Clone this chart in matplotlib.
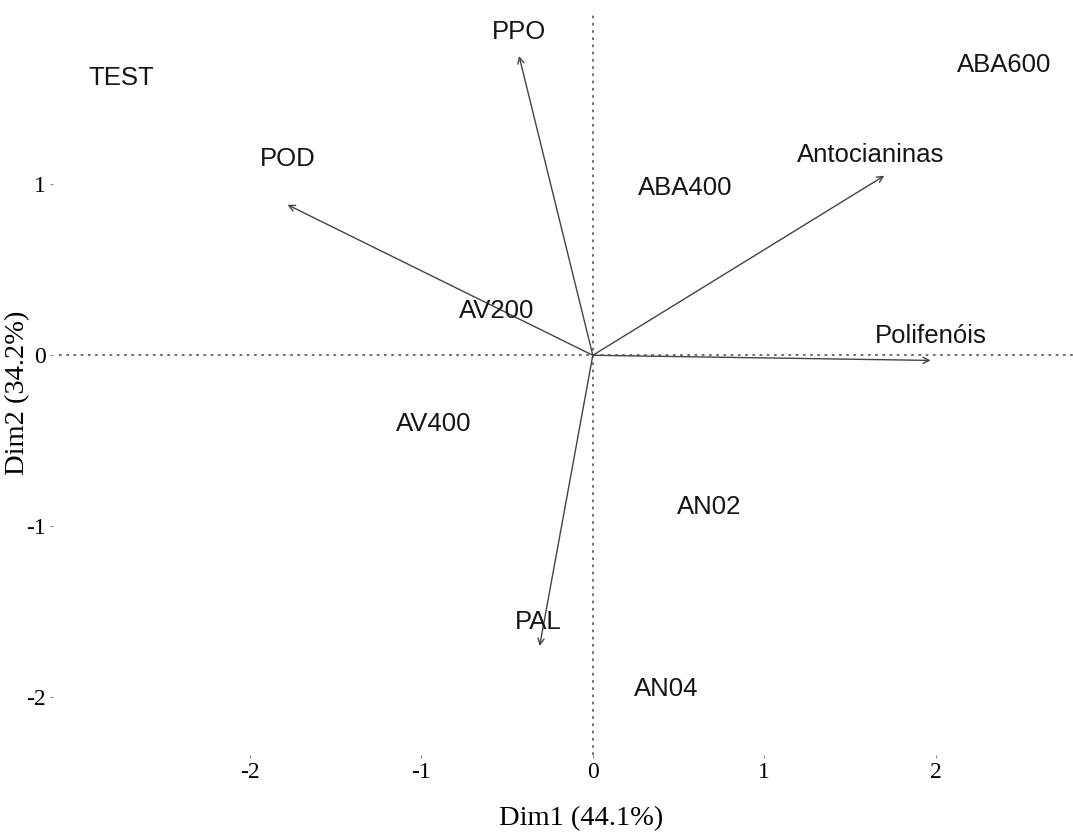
import matplotlib

matplotlib.use("Agg")
import matplotlib.pyplot as plt

# variables (arrows) and where their labels sit
var_names = ["PPO", "POD", "Antocianinas", "Polifenóis", "PAL"]
var_x = [-0.43, -1.78, 1.70, 1.97, -0.31]
var_y = [1.75, 0.88, 1.05, -0.03, -1.70]
var_lx = [-0.43, -1.78, 1.62, 1.97, -0.32]
var_ly = [1.89, 1.15, 1.17, 0.11, -1.56]

# individuals (treatment labels)
ind_names = ["TEST", "ABA600", "ABA400", "AV200", "AV400", "AN02", "AN04"]
ind_x = [-2.75, 2.40, 0.54, -0.56, -0.93, 0.68, 0.43]
ind_y = [1.62, 1.70, 0.98, 0.26, -0.40, -0.89, -1.95]

xticks = [-2, -1, 0, 1, 2]
yticks = [-2, -1, 0, 1]
xlabel = "Dim1 (44.1%)"
ylabel = "Dim2 (34.2%)"

SANS = "Liberation Sans"
SERIF = "Liberation Serif"

fig = plt.figure(figsize=(10.73, 8.32), dpi=100)
ax = fig.add_axes([0.049, 0.092, 0.951, 0.89])
ax.set_xlim(-3.15, 2.80)
ax.set_ylim(-2.34, 1.99)

for s in ax.spines.values():
    s.set_visible(False)

ax.axhline(0, color="#666666", lw=1.3, ls=(0, (1.5, 2.5)), xmin=0.006)
ax.axvline(0, color="#666666", lw=1.3, ls=(0, (1.5, 2.5)))

for name, x, y, lx, ly in zip(var_names, var_x, var_y, var_lx, var_ly):
    ax.annotate("", xy=(x, y), xytext=(0, 0),
                arrowprops=dict(arrowstyle="->", color="#444444", lw=1.0,
                                mutation_scale=11, shrinkA=0, shrinkB=0))
    ax.text(lx, ly, name, ha="center", va="center", fontsize=18.5,
            family=SANS, color="#151515")

for name, x, y in zip(ind_names, ind_x, ind_y):
    ax.text(x, y, name, ha="center", va="center", fontsize=18.5,
            family=SANS, color="#151515")

ax.set_xticks(xticks)
ax.set_xticklabels([f"{t:d}" for t in xticks], family=SERIF, fontsize=17)
ax.set_yticks(yticks)
ax.set_yticklabels([f"{t:d}" for t in yticks], family=SERIF, fontsize=17)
ax.tick_params(length=2, width=0.8, color="#888888", pad=3)

ax.set_xlabel(xlabel, family=SERIF, fontsize=20.5, va="center")
ax.xaxis.set_label_coords(0.518, -0.085)
ax.set_ylabel(ylabel, family=SERIF, fontsize=20.5, va="center")
ax.yaxis.set_label_coords(-0.034, 0.49)

fig.savefig("out.png", dpi=100, facecolor="white")
